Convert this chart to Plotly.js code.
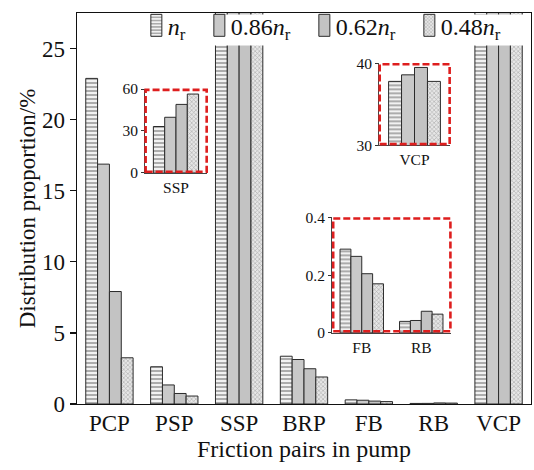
<!DOCTYPE html>
<html>
<head>
<meta charset="utf-8">
<script src="https://cdn.plot.ly/plotly-3.0.1.min.js"></script>
<style>
  html, body { margin: 0; padding: 0; background: #fff; }
  #chart { width: 534px; height: 470px; }
</style>
</head>
<body>
<div id="chart"></div>
<script>
// Friction pairs and their share of total friction loss (%) at four speeds
const pairs = ['PCP', 'PSP', 'SSP', 'BRP', 'FB', 'RB', 'VCP'];
const seriesNames = ['<i>n</i><sub>r</sub>', '0.86<i>n</i><sub>r</sub>', '0.62<i>n</i><sub>r</sub>', '0.48<i>n</i><sub>r</sub>'];
const speed100 = [22.9, 2.62, 33.2, 3.36, 0.29, 0.040, 37.8];
const speed86  = [16.87, 1.34, 39.8, 3.13, 0.265, 0.043, 38.6];
const speed62  = [7.91, 0.74, 49.0, 2.48, 0.205, 0.075, 39.5];
const speed48  = [3.25, 0.56, 56.4, 1.90, 0.170, 0.065, 37.8];
const allSeries = [speed100, speed86, speed62, speed48];

// Inset groups: which pairs each zoomed panel shows
const insetSSP = ['SSP'];
const insetVCP = ['VCP'];
const insetBearings = ['FB', 'RB'];

const serif = '"Liberation Serif", "Times New Roman", serif';
const edge = '#2b2b2b';

const styles = [
  { color: '#efefef', pattern: { shape: '-', fgcolor: '#8e8e8e', bgcolor: '#f2f2f2', size: 4, solidity: 0.35, fillmode: 'replace' } },
  { color: '#c9c9c9', pattern: { shape: '' } },
  { color: '#c3c3c3', pattern: { shape: '' } },
  { color: '#e2e2e2', pattern: { shape: 'x', fgcolor: '#a9a9a9', bgcolor: '#e6e6e6', size: 3, solidity: 0.35, fillmode: 'replace' } }
];

function pick(values, names) {
  return names.map(n => values[pairs.indexOf(n)]);
}

const traces = [];
const panels = [
  { names: pairs, xa: 'x', ya: 'y', legend: true },
  { names: insetSSP, xa: 'x2', ya: 'y2', legend: false },
  { names: insetVCP, xa: 'x3', ya: 'y3', legend: false },
  { names: insetBearings, xa: 'x4', ya: 'y4', legend: false }
];
panels.forEach(p => {
  allSeries.forEach((vals, i) => {
    traces.push({
      type: 'bar',
      x: p.names,
      y: pick(vals, p.names),
      name: seriesNames[i],
      legendgroup: 's' + i,
      showlegend: p.legend,
      xaxis: p.xa,
      yaxis: p.ya,
      cliponaxis: true,
      marker: {
        color: styles[i].color,
        pattern: styles[i].pattern,
        line: { color: edge, width: 1 }
      },
      hoverinfo: 'skip'
    });
  });
});

const tickFontBig = { family: serif, size: 23, color: '#111' };
const tickFontSmall = { family: serif, size: 15.5, color: '#111' };

function insetX(domain, cats, anchor) {
  return {
    domain: domain, anchor: anchor, type: 'category',
    categoryorder: 'array', categoryarray: cats,
    range: [-0.5, cats.length - 0.5],
    showline: true, linecolor: '#444', linewidth: 1,
    ticks: '', tickfont: tickFontSmall, fixedrange: true, showgrid: false
  };
}
function insetY(domain, range, vals, anchor) {
  return {
    domain: domain, anchor: anchor, range: range,
    tickvals: vals, ticktext: vals.map(v => String(v)),
    showline: true, linecolor: '#444', linewidth: 1,
    ticks: 'outside', ticklen: 3, tickcolor: '#333',
    tickfont: tickFontSmall, showgrid: false, zeroline: false, fixedrange: true
  };
}

const redBox = (ax) => ({
  type: 'rect', xref: ax[0] + ' domain', yref: ax[1] + ' domain',
  x0: 0.01, x1: 0.995, y0: 0.015, y1: 0.99,
  line: { color: 'rgb(222,30,30)', width: 2.6, dash: '7px,3px' },
  fillcolor: 'rgba(0,0,0,0)', layer: 'above'
});

// White panel behind the legend, covering the tall bars up there
const legendPanel = {
  type: 'rect', xref: 'paper', yref: 'paper',
  x0: 0.139, x1: 0.997, y0: 0.9167, y1: 0.9962,
  line: { width: 0 }, fillcolor: '#ffffff', layer: 'above'
};

const layout = {
  width: 534, height: 470,
  margin: { l: 77, r: 3, t: 8, b: 66 },
  paper_bgcolor: '#fff', plot_bgcolor: '#fff',
  barmode: 'group', bargap: 0.27, bargroupgap: 0,
  font: { family: serif, color: '#111' },
  showlegend: true,
  legend: {
    orientation: 'h', x: 0.112, xanchor: 'left', y: 1.025, yanchor: 'top',
    bgcolor: 'rgba(0,0,0,0)', borderwidth: 0, font: { family: serif, size: 24, color: '#111' },
    itemwidth: 30, traceorder: 'normal', itemclick: false, itemdoubleclick: false
  },
  xaxis: {
    domain: [0, 1], anchor: 'y', type: 'category',
    categoryorder: 'array', categoryarray: pairs,
    range: [-0.5, 6.5],
    showline: true, mirror: true, linecolor: '#111', linewidth: 1.3,
    ticks: '', tickfont: tickFontBig, showgrid: false, ticklabelstandoff: -2,
    title: { text: 'Friction pairs in pump', font: { family: serif, size: 24, color: '#111' }, standoff: 0 },
    fixedrange: true
  },
  yaxis: {
    domain: [0, 1], anchor: 'x', range: [0, 27.5],
    tickvals: [0, 5, 10, 15, 20, 25],
    showline: true, mirror: true, linecolor: '#111', linewidth: 1.3,
    ticks: 'outside', ticklen: 6, tickwidth: 1.3, tickcolor: '#111',
    tickfont: tickFontBig, showgrid: false, zeroline: false,
    title: { text: 'Distribution proportion/%', font: { family: serif, size: 23, color: '#111' }, standoff: 0 },
    fixedrange: true
  },
  xaxis2: insetX([0.1498, 0.2863], insetSSP, 'y2'),
  yaxis2: insetY([0.5909, 0.8056], [0, 60], [0, 30, 60], 'x2'),
  xaxis3: insetX([0.6652, 0.8216], insetVCP, 'y3'),
  yaxis3: insetY([0.6616, 0.8712], [30, 40], [30, 40], 'x3'),
  xaxis4: insetX([0.5617, 0.8238], insetBearings, 'y4'),
  yaxis4: insetY([0.1818, 0.4773], [0, 0.4], [0, 0.2, 0.4], 'x4'),
  shapes: [legendPanel, redBox(['x2', 'y2']), redBox(['x3', 'y3']), redBox(['x4', 'y4'])]
};

Plotly.newPlot('chart', traces, layout, { displayModeBar: false, staticPlot: true }).then(gd => {
  // Tall, narrow legend swatches sitting close to their labels
  gd.querySelectorAll('.legend .legendpoints path').forEach(p => {
    p.setAttribute('d', 'M14,11H3V-11H14Z');
  });
});
</script>
</body>
</html>
